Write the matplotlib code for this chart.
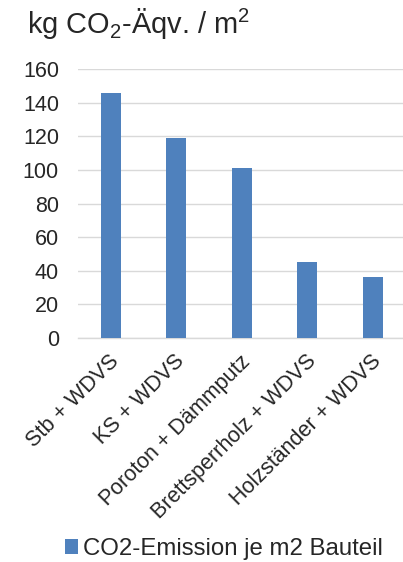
import matplotlib
matplotlib.use("Agg")
import matplotlib.pyplot as plt
from matplotlib.patches import Patch
import matplotlib.transforms as mtransforms

plt.rcParams['font.family'] = ['Liberation Sans', 'DejaVu Sans']
plt.rcParams['mathtext.default'] = 'regular'

categories = ["Stb + WDVS", "KS + WDVS", "Poroton + Dämmputz",
              "Brettsperrholz + WDVS", "Holzständer + WDVS"]
emissions = [146, 119, 101, 45, 36]
yticks = [0, 20, 40, 60, 80, 100, 120, 140, 160]
series_name = "CO2-Emission je m2 Bauteil"
title = "kg CO$_2$-Äqv. / m$^2$"

W, H = 403, 562
DPI = 72
fig = plt.figure(figsize=(W / DPI, H / DPI), dpi=DPI)

left, right, bottom, top = 78, 405.5, 338, 69
ax = fig.add_axes([left / W, 1 - bottom / H, (right - left) / W, (bottom - top) / H])

bar_color = "#4f81bd"
grid_color = "#d9d9d9"
text_color = "#262626"

x = list(range(len(categories)))
ax.bar(x, emissions, width=0.305, color=bar_color, zorder=3)

ax.set_xlim(-0.5, len(categories) - 0.5)
ax.set_ylim(0, 160)
ax.set_yticks(yticks)
ax.set_yticklabels([str(v) for v in yticks])
ax.yaxis.grid(True, color=grid_color, linewidth=1.4, zorder=0)
ax.set_axisbelow(True)

for s in ["top", "right", "left"]:
    ax.spines[s].set_visible(False)
ax.spines["bottom"].set_color(grid_color)
ax.spines["bottom"].set_linewidth(1.4)

ax.tick_params(axis="y", length=0, pad=19, labelsize=21.5, labelcolor=text_color)
ax.tick_params(axis="x", length=0, pad=13, labelsize=21.5, labelcolor=text_color)
ax.set_xticks(x)
ax.set_xticklabels(categories, rotation=45, ha="right", rotation_mode="anchor")
offset = mtransforms.ScaledTranslation(-2 / DPI, 0, fig.dpi_scale_trans)
for lbl in ax.get_xticklabels():
    lbl.set_transform(lbl.get_transform() + offset)

fig.text(27 / W, 1 - 34 / H, title, fontsize=29, color=text_color,
         ha="left", va="baseline")

fig.legend(handles=[Patch(facecolor=bar_color, edgecolor="none")],
           labels=[series_name], loc="center", frameon=False,
           bbox_to_anchor=(224 / W, 1 - 549 / H),
           fontsize=24, handlelength=0.55, handleheight=0.55,
           handletextpad=0.2, labelcolor=text_color)

fig.savefig("out.png", dpi=DPI)
